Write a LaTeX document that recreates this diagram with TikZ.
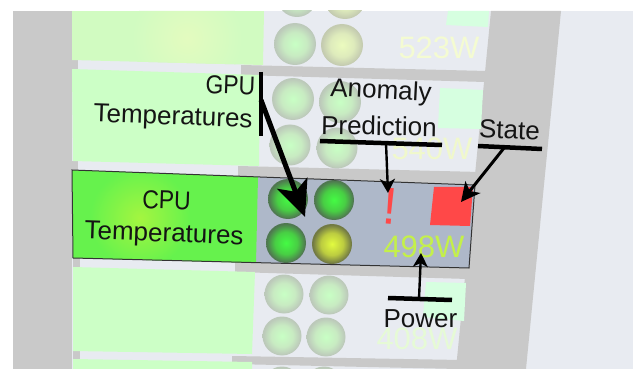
\documentclass[tikz,border=0pt]{standalone}
\usepackage{graphicx}
\usepackage{fontspec}
\setmainfont{Liberation Sans}
\usetikzlibrary{arrows.meta}
\definecolor{bgc}{HTML}{E8EBF1}
\definecolor{grayc}{HTML}{C9C9C9}
\definecolor{palec}{HTML}{CCFFC6}
\definecolor{toprow}{HTML}{D1FBC1}
\definecolor{selc}{HTML}{AEB8C9}
\definecolor{hotc}{HTML}{FF4848}
\definecolor{sqc}{HTML}{D6FFE0}
\definecolor{cpub}{HTML}{66F24D}
\definecolor{cpua}{HTML}{A4F540}
\definecolor{ga}{HTML}{44FB44}
\definecolor{gb}{HTML}{48CE44}
\definecolor{gc}{HTML}{4F7850}
\definecolor{ya}{HTML}{E2FB40}
\definecolor{yb}{HTML}{BCCC40}
\definecolor{yc}{HTML}{727A44}
\definecolor{pa}{HTML}{C8FFC4}
\definecolor{pb}{HTML}{C8EBC2}
\definecolor{pc}{HTML}{BCC9BA}
\definecolor{qa}{HTML}{EBFBBE}
\definecolor{qb}{HTML}{DEEBBC}
\definecolor{qc}{HTML}{C4CBB0}
\pgfdeclareradialshading{ledgreen}{\pgfpoint{0bp}{0bp}}{color(0bp)=(ga); color(14bp)=(gb); color(24bp)=(gc); color(50bp)=(gc)}
\pgfdeclareradialshading{ledyellow}{\pgfpoint{0bp}{0bp}}{color(0bp)=(ya); color(14bp)=(yb); color(24bp)=(yc); color(50bp)=(yc)}
\pgfdeclareradialshading{ledpale}{\pgfpoint{0bp}{0bp}}{color(0bp)=(pa); color(14bp)=(pb); color(24bp)=(pc); color(50bp)=(pc)}
\pgfdeclareradialshading{ledcream}{\pgfpoint{0bp}{0bp}}{color(0bp)=(qa); color(14bp)=(qb); color(24bp)=(qc); color(50bp)=(qc)}
\tikzset{
  lbl/.style={inner sep=0pt,text=black!92,font=\fontsize{26}{30}\selectfont},
  watt/.style={inner sep=0pt,font=\fontsize{31}{36}\selectfont},
  bandc/.style={fill=grayc,draw=none},
  barline/.style={line width=4.5pt,black},
  leadthin/.style={line width=2.4pt,black,-{Stealth[length=14pt,width=15pt,inset=4pt]}},
  leadmid/.style={line width=3pt,black,-{Stealth[length=19pt,width=19pt,inset=5pt]}},
  leadbig/.style={line width=5pt,black,-{Stealth[length=36pt,width=32pt,inset=9pt]}},
  led/.style={shading=ledgreen},
  ledy/.style={shading=ledyellow},
  ledp/.style={shading=ledpale},
  ledq/.style={shading=ledcream}
}
\begin{document}
\begin{tikzpicture}[x=1pt,y=-1pt]
\useasboundingbox (0,0) rectangle (633,369);
\fill[white] (0,0) rectangle (633,369);
\begin{scope}
\clip (13,11) rectangle (633,369);
\fill[bgc] (13,11) rectangle (633,369);
\fill[grayc] (13,11) rectangle (72,369);
\fill[grayc] (491,11) -- (561,11) -- (526,369) -- (456,369) -- cycle;
% gray bands between rows
\path[bandc] (241,65) -- (487,71) -- (485,82) -- (241,75) -- cycle;
\path[bandc] (238,166) -- (480,172) -- (476,185) -- (238,176) -- cycle;
\path[bandc] (235,262) -- (470,268) -- (468,279) -- (235,272) -- cycle;
\path[bandc] (232,356) -- (461,360) -- (458,369) -- (232,364) -- cycle;
\fill[grayc] (72,60) rectangle (78,69);
\fill[grayc] (72,161) rectangle (78,170);
\fill[grayc] (73,258) rectangle (80,267);
\fill[grayc] (73,351) rectangle (80,359);
% temperature panels
\begin{scope}
\clip (72,11) -- (264,11) -- (263,65) -- (72,60) -- cycle;
\fill[toprow] (72,11) rectangle (264,65);
\shade[inner color=qa!70!toprow,outer color=toprow] (187,38) circle[radius=55pt];
\end{scope}
\fill[palec] (72,69) -- (260,75) -- (259,166) -- (73,161) -- cycle;
\fill[selc] (72,170) -- (475,185) -- (469,268) -- (73,258) -- cycle;
\begin{scope}
\clip (72,170) -- (258,177) -- (256,263) -- (73,258) -- cycle;
\fill[cpub] (72,170) rectangle (258,263);
\shade[inner color=cpua,outer color=cpub] (140,218) circle[radius=50pt];
\end{scope}
\fill[palec] (73,267) -- (255,272) -- (252,354) -- (73,351) -- cycle;
\fill[palec] (73,359) -- (252,362) -- (252,369) -- (73,369) -- cycle;
% state squares
\fill[sqc] (448,11) -- (489,11) -- (488,27) -- (446,25) -- cycle;
\fill[sqc] (440,88) -- (483,90) -- (481,129) -- (438,128) -- cycle;
\fill[sqc] (426,282) -- (466,283) -- (464,321) -- (423,317) -- cycle;
% LEDs
\path[ledp] (297,-3) circle[radius=20pt];
\path[ledq] (345,-2) circle[radius=21pt];
\path[ledp] (295,44) circle[radius=21pt];
\path[ledq] (342,45) circle[radius=21pt];
\path[ledp] (293,99) circle[radius=21pt];
\path[ledp] (340,102) circle[radius=21pt];
\path[ledp] (290,145) circle[radius=20.5pt];
\path[ledp] (337,148) circle[radius=20.5pt];
\path[led] (288,199) circle[radius=20pt];
\path[led] (334,200) circle[radius=20pt];
\path[led] (286,243) circle[radius=20pt];
\path[ledy] (332,244) circle[radius=20pt];
\path[ledp] (284,294) circle[radius=19.5pt];
\path[ledp] (329,295) circle[radius=19.5pt];
\path[ledp] (282,336) circle[radius=19.5pt];
\path[ledp] (326,337) circle[radius=19.5pt];
\path[ledp] (282,386) circle[radius=19.5pt];
\path[ledp] (324,386) circle[radius=19.5pt];
% watt labels
\definecolor{wa}{HTML}{F4FBD2}
\definecolor{wb}{HTML}{F0F8CC}
\definecolor{wc}{HTML}{E6FAD6}
\definecolor{wd}{HTML}{C4F04A}
\node[watt,text=wa] (w523) at (439,48) {523W};
\node[watt,text=wb] (w540) at (432,149) {540W};
\node[watt,text=wc] (w408) at (417,339) {408W};
\node[watt,text=wd] (w498) at (424,247) {498W};
% selected outline
\draw[line width=1pt,black!80] (72,170) -- (475,185) -- (469,268) -- (73,258) -- cycle;
% alert and state
\fill[hotc] (434,187) -- (473,187) -- (470,226) -- (430,225) -- cycle;
\node[inner sep=0pt,text=hotc,font=\fontsize{52}{56}\selectfont,rotate=-5] (alert) at (390,206) {!};
\end{scope}
% labels
\node[lbl,rotate=-2] (gpul) at (230.5,85) {\scalebox{.88}[1]{GPU}};
\node[lbl,rotate=-2] (tempa) at (173,118.5) {Temperatures};
\node[lbl,rotate=-3] (anoml) at (381,92) {Anomaly};
\node[lbl,rotate=-1] (predl) at (379,126) {Prediction};
\node[lbl,rotate=-2] (statel) at (509.5,130) {State};
\node[lbl,rotate=-2] (cpul) at (166.5,200) {\scalebox{.88}[1]{CPU}};
\node[lbl,rotate=-2] (tempb) at (164,235.5) {Temperatures};
\node[lbl] (powerl) at (420.5,319) {Power};
% bars and leaders
\coordinate (gpua) at (261,72);
\coordinate (gpub) at (261,136);
\coordinate (gpus) at (261,100);
\coordinate (gput) at (305,217);
\coordinate (anoma) at (320,141);
\coordinate (anomb) at (442,145);
\coordinate (anoms) at (386,143);
\coordinate (anomt) at (388,193);
\coordinate (statea) at (478,146);
\coordinate (stateb) at (542,149);
\coordinate (states) at (504,148);
\coordinate (statet) at (461,202);
\coordinate (powa) at (388,298);
\coordinate (powb) at (452,300);
\coordinate (pows) at (419,299);
\coordinate (powt) at (421,253);
\draw[barline] (gpua) -- (gpub);
\draw[barline] (anoma) -- (anomb);
\draw[barline] (statea) -- (stateb);
\draw[barline] (powa) -- (powb);
\draw[leadbig] (gpus) -- (gput);
\draw[leadthin] (anoms) -- (anomt);
\draw[leadmid] (states) -- (statet);
\draw[leadthin] (pows) -- (powt);
\end{tikzpicture}
\end{document}
